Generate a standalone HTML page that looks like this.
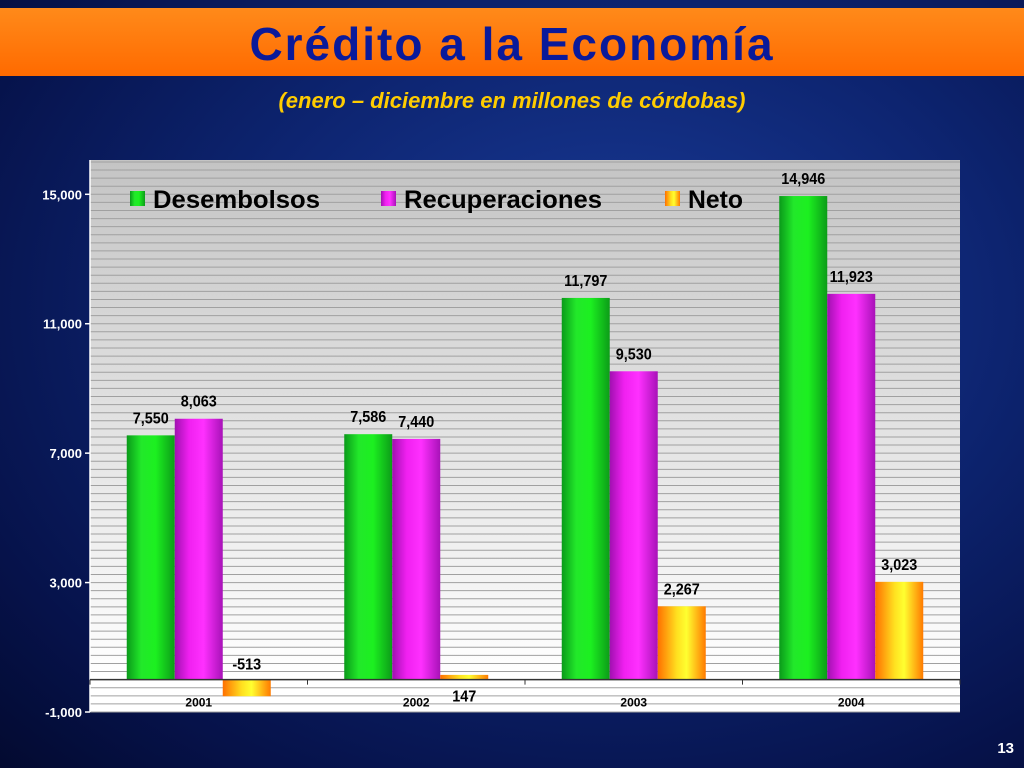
<!DOCTYPE html>
<html><head><meta charset="utf-8">
<style>
html,body{margin:0;padding:0;width:1024px;height:768px;overflow:hidden;}
body{background:radial-gradient(ellipse at 60% 40%,#1a3c9a 0%,#0d2470 45%,#06124a 80%,#030a30 100%);font-family:"Liberation Sans",sans-serif;position:relative;}
#titlebar{position:absolute;left:0;top:8px;width:1024px;height:68px;background:linear-gradient(#ff8a1a,#ff6a00);}
#title{position:absolute;left:0;width:1024px;top:17px;text-align:center;font-weight:bold;font-size:46px;color:#0a1a9a;letter-spacing:2px;}
#subtitle{position:absolute;left:0;width:1024px;top:88px;text-align:center;font-weight:bold;font-style:italic;font-size:22px;color:#ffcc00;}
#pnum{position:absolute;right:10px;top:740px;color:#fff;font-weight:bold;font-size:15px;}
svg{position:absolute;left:0;top:0;}
</style></head><body>
<div id="titlebar"></div>
<div id="title">Crédito a la Economía</div>
<div id="subtitle">(enero – diciembre en millones de córdobas)</div>
<div id="pnum">13</div>
<svg id="chart" width="1024" height="768">
<defs>
<linearGradient id="bg" x1="0" y1="0" x2="0" y2="1"><stop offset="0" stop-color="#c4c4c4"/><stop offset="1" stop-color="#ffffff"/></linearGradient>
<linearGradient id="gG" x1="0" x2="1"><stop offset="0" stop-color="#0a9a1a"/><stop offset="0.3" stop-color="#22e82a"/><stop offset="0.6" stop-color="#1cf020"/><stop offset="1" stop-color="#0c9c18"/></linearGradient>
<linearGradient id="gM" x1="0" x2="1"><stop offset="0" stop-color="#a010b0"/><stop offset="0.3" stop-color="#f020f0"/><stop offset="0.6" stop-color="#ff30ff"/><stop offset="1" stop-color="#a812b8"/></linearGradient>
<linearGradient id="gN" x1="0" x2="1"><stop offset="0" stop-color="#ff7000"/><stop offset="0.4" stop-color="#ffe020"/><stop offset="0.6" stop-color="#ffff30"/><stop offset="1" stop-color="#ff7a00"/></linearGradient>
</defs>
<g id="plot"></g>
</svg>
<script>
const categories=["2001","2002","2003","2004"];
const desembolsos=[7550,7586,11797,14946];
const recuperaciones=[8063,7440,9530,11923];
const neto=[-513,147,2267,3023];
const yTicks=[15000,11000,7000,3000,-1000];
const tickLabels=["15,000","11,000","7,000","3,000","-1,000"];
const seriesNames=["Desembolsos","Recuperaciones","Neto"];

const NS="http://www.w3.org/2000/svg";
const g=document.getElementById('plot');
const L=90,R=960,T=160,B=712,yMin=-1000,yMax=16060;
function y(v){return B-(v-yMin)/(yMax-yMin)*(B-T);}
const bandW=(R-L)/categories.length;
function x(i){return L+bandW*(i+0.5);}
function mk(tag,attrs,parent){const e=document.createElementNS(NS,tag);for(const k in attrs)e.setAttribute(k,attrs[k]);(parent||g).appendChild(e);return e;}
let e;
e=mk('rect',{x:L,y:T,width:R-L,height:y(0)-T,fill:'url(#bg)'});


e=mk('rect',{x:L,y:y(0),width:R-L,height:B-y(0),fill:'#ffffff'});


for(let v=-1000;v<=16000;v+=250){
 e=mk('line',{x1:L,x2:R,y1:y(v),y2:y(v),stroke:'#a0a0a0','stroke-width':1});
 
 
}
mk('line',{x1:L,x2:L,y1:T,y2:B,stroke:'#ffffff','stroke-width':1.5});
yTicks.forEach((v,i)=>{
 mk('line',{x1:L-5,x2:L,y1:y(v),y2:y(v),stroke:'#fff','stroke-width':1.5});
 e=mk('text',{x:L-8,y:y(v)+5,'text-anchor':'end',fill:'#fff','font-size':13,'font-weight':'bold','font-family':'Liberation Sans, sans-serif'});
 e.textContent=tickLabels[i];
 
 
});
const bw=48;
const fills=['url(#gG)','url(#gM)','url(#gN)'];
const series=[desembolsos,recuperaciones,neto];
categories.forEach((c,i)=>{
 series.forEach((s,k)=>{
  const v=s[i];const bx=x(i)-1.5*bw+k*bw;
  const y0=y(0),y1=y(v);
  e=mk('rect',{x:bx,y:Math.min(y0,y1),width:bw,height:Math.max(1,Math.abs(y1-y0)),fill:fills[k]});
  
  
  let ly=v>=0?y1-12:y0-10;
  let lx=bx+bw/2;
  if(k===2&&v>=0&&v<500){ly=y0+22;}
  e=mk('text',{x:lx,y:ly,'text-anchor':'middle',fill:'#000','font-size':16,'font-weight':'bold','font-family':'Liberation Sans, sans-serif','transform':'translate('+lx+' 0) scale(0.9 1) translate('+(-lx)+' 0)'});
  e.textContent=v.toLocaleString('en-US');
  
  
 });
 e=mk('text',{x:x(i),y:y(0)+27,'text-anchor':'middle',fill:'#000','font-size':12,'font-weight':'bold','font-family':'Liberation Sans, sans-serif'});
 e.textContent=c;
 
 
});
mk('line',{x1:L,x2:R,y1:y(0),y2:y(0),stroke:'#333','stroke-width':1.5});
for(let i=0;i<=categories.length;i++){mk('line',{x1:L+bandW*i,x2:L+bandW*i,y1:y(0),y2:y(0)+5,stroke:'#333','stroke-width':1});}
const legX=[130,381,665];
seriesNames.forEach((n,k)=>{
 e=mk('rect',{x:legX[k],y:191,width:15,height:15,fill:fills[k]});
 
 
 e=mk('text',{x:legX[k]+23,y:208,fill:'#000','font-size':25,'font-weight':'bold','font-family':'Liberation Sans, sans-serif','textLength':[167,198,55][k],'lengthAdjust':'spacingAndGlyphs'});
 e.textContent=n;
 
 
});
</script>
</body></html>
